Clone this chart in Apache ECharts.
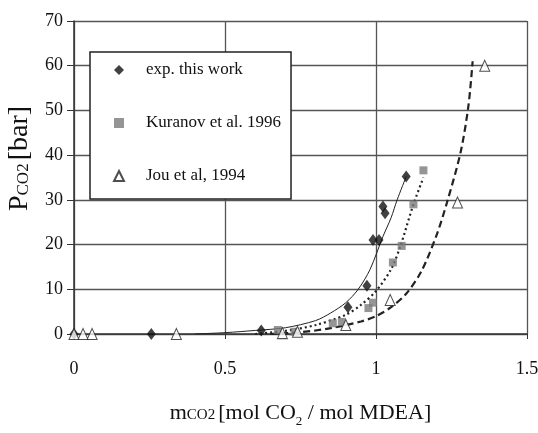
<!DOCTYPE html>
<html>
<head>
<meta charset="utf-8">
<script src="https://cdn.jsdelivr.net/npm/echarts@6/dist/echarts.min.js"></script>
<style>
  html, body { margin: 0; padding: 0; background: #fff; }
  #main { width: 538px; height: 433px; }
</style>
</head>
<body>
<div id="main"></div>
<script>
var myChart = echarts.init(document.getElementById('main'));

// measured points
var expX = [0, 0.256, 0.62, 0.907, 0.97, 0.99, 1.01, 1.023, 1.03, 1.10];
var expY = [0, 0, 0.8, 6, 10.8, 21, 21, 28.5, 27, 35.2];
var kurX = [0.675, 0.73, 0.857, 0.887, 0.975, 0.99, 1.056, 1.085, 1.124, 1.157];
var kurY = [0.9, 0.5, 2.4, 2.7, 5.8, 7, 16, 19.7, 29, 36.6];
var jouX = [0, 0.03, 0.06, 0.339, 0.69, 0.74, 0.90, 1.047, 1.27, 1.36];
var jouY = [0, 0, 0, 0, 0.2, 0.5, 2, 7.6, 29.4, 60];

// model curves
var fitExpX = [0.40, 0.50, 0.60, 0.70, 0.80, 0.85, 0.90, 0.94, 0.98, 1.023, 1.05, 1.07, 1.10];
var fitExpY = [0, 0.3, 0.8, 1.4, 3, 4.7, 7, 9.9, 14.4, 21.8, 26, 30, 35.2];
var fitKurX = [0.60, 0.70, 0.80, 0.90, 0.95, 1.0, 1.05, 1.08, 1.124, 1.157];
var fitKurY = [0, 0.7, 2, 4.3, 6.5, 9.6, 14.5, 19.5, 29, 35];
var fitJouX = [0.65, 0.75, 0.85, 0.95, 1.0, 1.05, 1.10, 1.15, 1.20, 1.235, 1.28, 1.306, 1.32];
var fitJouY = [0, 0.4, 1.3, 2.8, 4, 6, 9, 14, 22, 29.4, 40.6, 51, 61];

var xTicks = [0, 0.5, 1, 1.5];
var legendNames = ['exp. this work', 'Kuranov et al. 1996', 'Jou et al, 1994'];

function pairs(xs, ys) {
    var out = [];
    for (var i = 0; i < xs.length; i++) out.push([xs[i], ys[i]]);
    return out;
}

var serif = 'Liberation Serif';

var option = {
    animation: false,
    backgroundColor: '#fff',
    textStyle: { fontFamily: serif },
    grid: { left: 74, right: 11, top: 21, bottom: 99, containLabel: false, outerBoundsMode: 'none' },
    legend: {
        data: legendNames,
        orient: 'vertical',
        left: 90,
        top: 52,
        itemWidth: 10,
        itemHeight: 10,
        itemGap: 33,
        padding: [8, 10, 13, 23],
        backgroundColor: '#fff',
        borderColor: '#222',
        borderWidth: 1.5,
        textStyle: {
            fontFamily: serif,
            fontSize: 17,
            color: '#111',
            lineHeight: 20,
            padding: [0, 0, 0, 17]
        }
    },
    xAxis: {
        type: 'value',
        min: 0,
        max: 1.5,
        interval: 0.5,
        name: '{m|m}{s|CO2} {n|[mol CO}{sub|2}{n| / mol MDEA]}',
        nameLocation: 'middle',
        nameGap: 68,
        nameTextStyle: {
            rich: {
                m: { fontFamily: serif, fontSize: 22, color: '#111', verticalAlign: 'bottom' },
                s: { fontFamily: serif, fontSize: 15, color: '#111', verticalAlign: 'bottom', padding: [0, 0, 1, 0] },
                n: { fontFamily: serif, fontSize: 22, color: '#111', verticalAlign: 'bottom' },
                sub: { fontFamily: serif, fontSize: 13, color: '#111', verticalAlign: 'bottom', padding: [0, 0, -4, 0] }
            }
        },
        axisLine: { show: true, lineStyle: { color: '#333', width: 1.5 } },
        axisTick: { show: true, length: 5, inside: false, lineStyle: { color: '#333' } },
        axisLabel: {
            margin: 26,
            fontFamily: serif,
            fontSize: 18,
            color: '#111',
            formatter: function (v) {
                return xTicks.indexOf(v) >= 0 ? String(v) : '';
            }
        },
        splitLine: { show: true, lineStyle: { color: '#555', width: 1.3 } }
    },
    yAxis: {
        type: 'value',
        min: 0,
        max: 70,
        interval: 10,
        name: '{p|P}{s|CO2} {n|[bar]}',
        nameLocation: 'middle',
        nameGap: 40,
        nameTextStyle: {
            padding: [0, 0, 0, 38],
            rich: {
                p: { fontFamily: serif, fontSize: 28, color: '#111', verticalAlign: 'bottom' },
                s: { fontFamily: serif, fontSize: 17, color: '#111', verticalAlign: 'bottom', padding: [0, 0, 2, 0] },
                n: { fontFamily: serif, fontSize: 28, color: '#111', verticalAlign: 'bottom' }
            }
        },
        axisLine: { show: true, lineStyle: { color: '#333', width: 1.5 } },
        axisTick: { show: true, length: 7, lineStyle: { color: '#333' } },
        axisLabel: { margin: 11, fontFamily: serif, fontSize: 18, color: '#111' },
        splitLine: { show: true, lineStyle: { color: '#555', width: 1.3 } }
    },
    series: [
        {
            name: 'model exp',
            type: 'line',
            smooth: 0.3,
            showSymbol: false,
            silent: true,
            lineStyle: { color: '#222', width: 1, type: 'solid' },
            data: pairs(fitExpX, fitExpY),
            z: 2
        },
        {
            name: 'model Kuranov',
            type: 'line',
            smooth: 0.3,
            showSymbol: false,
            silent: true,
            lineStyle: { color: '#222', width: 2.2, type: [2, 3] },
            data: pairs(fitKurX, fitKurY),
            z: 2
        },
        {
            name: 'model Jou',
            type: 'line',
            smooth: 0.3,
            showSymbol: false,
            silent: true,
            lineStyle: { color: '#222', width: 2.2, type: [7, 4] },
            data: pairs(fitJouX, fitJouY),
            z: 2
        },
        {
            name: legendNames[0],
            type: 'scatter',
            symbol: 'diamond',
            symbolSize: [9, 12],
            itemStyle: { color: '#111' },
            data: pairs(expX, expY),
            z: 4
        },
        {
            name: legendNames[1],
            type: 'scatter',
            symbol: 'rect',
            symbolSize: 8,
            itemStyle: { color: '#7a7a7a' },
            data: pairs(kurX, kurY),
            z: 4
        },
        {
            name: legendNames[2],
            type: 'scatter',
            symbol: 'triangle',
            symbolSize: [10, 11],
            itemStyle: { color: '#fff', borderColor: '#222', borderWidth: 1 },
            data: pairs(jouX, jouY),
            z: 4
        }
    ]
};

myChart.setOption(option);
</script>
</body>
</html>
